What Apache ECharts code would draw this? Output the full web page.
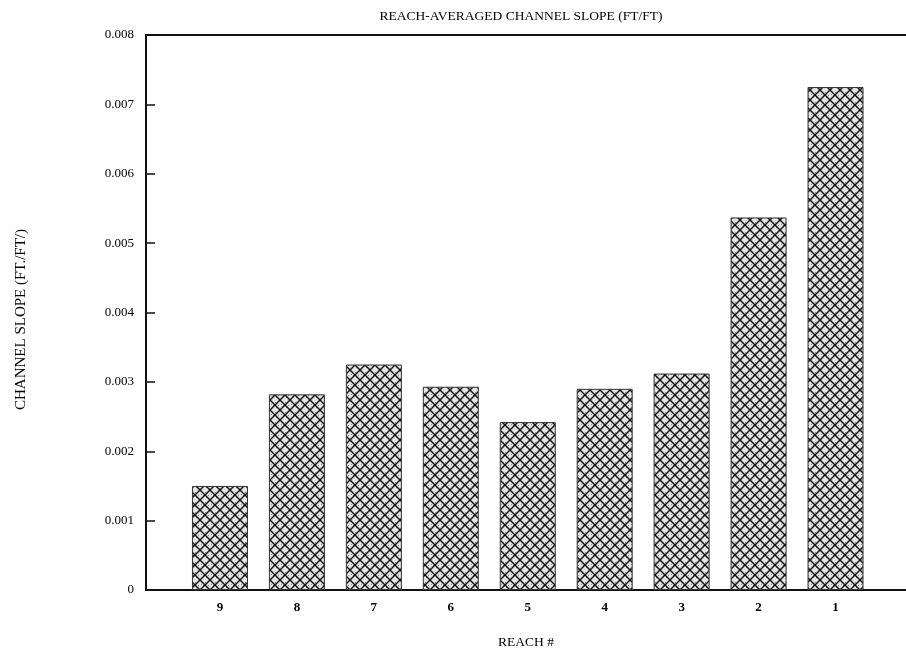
<!DOCTYPE html>
<html>
<head>
<meta charset="utf-8">
<script src="https://cdn.jsdelivr.net/npm/echarts@6/dist/echarts.min.js"></script>
<style>html,body{margin:0;padding:0;background:#fff;}#main{width:906px;height:655px;}</style>
</head>
<body>
<div id="main"></div>
<script>
const categories = ['9', '8', '7', '6', '5', '4', '3', '2', '1'];
const slopeValues = [0.0015, 0.00282, 0.00325, 0.00293, 0.00242, 0.0029, 0.00312, 0.00537, 0.00725];
const yTickMin = 0;
const yTickMax = 0.008;
const yTickStep = 0.001;
const titleText = 'REACH-AVERAGED CHANNEL SLOPE (FT/FT)';
const yAxisTitle = 'CHANNEL SLOPE (FT./FT/)';
const xAxisTitle = 'REACH #';

function makePattern() {
  const s = 10;
  const c = document.createElement('canvas');
  c.width = s; c.height = s;
  const g = c.getContext('2d');
  g.fillStyle = '#e4e4e4';
  g.fillRect(0, 0, s, s);
  g.fillStyle = '#8a8a8a';
  g.fillRect(5, 2, 1, 1); g.fillRect(3, 5, 1, 1); g.fillRect(6, 7, 1, 1);
  g.fillRect(1, 4, 1, 1); g.fillRect(8, 5, 1, 1);
  g.strokeStyle = '#111';
  g.lineWidth = 1.4;
  for (let k = -1; k <= 1; k++) {
    g.beginPath(); g.moveTo(k * s, 0); g.lineTo(k * s + s, s); g.stroke();
    g.beginPath(); g.moveTo(k * s + s, 0); g.lineTo(k * s, s); g.stroke();
  }
  return c;
}

const font = 'Liberation Serif';
const chart = echarts.init(document.getElementById('main'));
chart.setOption({
  backgroundColor: '#fff',
  animation: false,
  textStyle: { fontFamily: font, color: '#000' },
  title: {
    text: titleText, left: 516, top: 4, textAlign: 'center',
    textStyle: { fontFamily: font, fontSize: 13.5, fontWeight: 'normal', color: '#000' }
  },
  grid: [
    { left: 146, right: 0, top: 35, bottom: 65 },
    { left: 181.5, right: 32, top: 35, bottom: 65 }
  ],
  xAxis: [
    { gridIndex: 0, type: 'value', position: 'bottom', min: 0, max: 1,
      axisLine: { show: true, lineStyle: { color: '#111', width: 2 } },
      axisTick: { show: false }, axisLabel: { show: false }, splitLine: { show: false },
      name: xAxisTitle, nameLocation: 'middle', nameGap: 45,
      nameTextStyle: { fontFamily: font, fontSize: 13.5, color: '#000' } },
    { gridIndex: 0, type: 'value', position: 'top', min: 0, max: 1,
      axisLine: { show: true, lineStyle: { color: '#111', width: 2 } },
      axisTick: { show: false }, axisLabel: { show: false }, splitLine: { show: false } },
    { gridIndex: 1, type: 'category', data: categories,
      axisLine: { show: false }, axisTick: { show: false },
      axisLabel: { margin: 11, fontFamily: font, fontSize: 13, fontWeight: 'bold', color: '#000' } }
  ],
  yAxis: [
    { gridIndex: 0, type: 'value', min: yTickMin, max: yTickMax, interval: yTickStep,
      axisLine: { show: true, lineStyle: { color: '#111', width: 2 } },
      axisTick: { show: true, inside: true, length: 9, lineStyle: { color: '#111', width: 1.5 } },
      splitLine: { show: false },
      axisLabel: { margin: 12, fontFamily: font, fontSize: 13, color: '#000',
        formatter: v => v === 0 ? '0' : v.toFixed(3) },
      name: yAxisTitle, nameLocation: 'middle', nameGap: 117, nameRotate: 90,
      nameTextStyle: { fontFamily: font, fontSize: 15, color: '#000', padding: [0, 14, 0, 0] } },
    { gridIndex: 1, type: 'value', min: yTickMin, max: yTickMax, show: false }
  ],
  series: [{
    type: 'bar', xAxisIndex: 2, yAxisIndex: 1, data: slopeValues, barWidth: 56,
    itemStyle: {
      color: { image: makePattern(), repeat: 'repeat' },
      borderColor: '#333', borderWidth: 1
    }
  }]
});
</script>
</body>
</html>
